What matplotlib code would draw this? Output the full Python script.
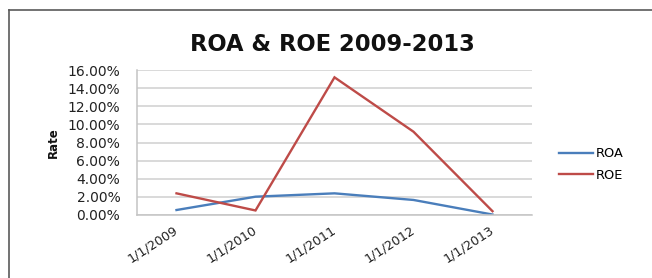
import matplotlib
matplotlib.use("Agg")
import matplotlib.pyplot as plt
from matplotlib.lines import Line2D
from matplotlib.ticker import FuncFormatter

categories = ["1/1/2009", "1/1/2010", "1/1/2011", "1/1/2012", "1/1/2013"]
roa = [0.55, 2.02, 2.39, 1.66, 0.05]
roe = [2.39, 0.5, 15.19, 9.19, 0.42]
y_ticks = [0, 2, 4, 6, 8, 10, 12, 14, 16]

plt.rcParams['font.family'] = ['DejaVu Sans']

fig = plt.figure(figsize=(6.52, 2.78), dpi=100)
W, H = 652, 278

# outer chart border (left and top visible)
fig.add_artist(Line2D([9 / W, 9 / W], [0, 1 - 10 / H], transform=fig.transFigure,
                      color="#5a5a5a", lw=1.2))
fig.add_artist(Line2D([9 / W, 1], [1 - 10 / H, 1 - 10 / H], transform=fig.transFigure,
                      color="#5a5a5a", lw=1.2))

left, right, top, bottom = 137, 532, 70, 215
ax = fig.add_axes([left / W, 1 - bottom / H, (right - left) / W, (bottom - top) / H])

x = list(range(len(categories)))
ax.plot(x, roa, color="#4a7ebb", lw=1.7, label="ROA", solid_joinstyle="miter")
ax.plot(x, roe, color="#be4b48", lw=1.7, label="ROE", solid_joinstyle="miter")

ax.set_xlim(-0.5, len(categories) - 0.5)
ax.set_ylim(0, 16)
ax.set_yticks(y_ticks)
ax.yaxis.set_major_formatter(FuncFormatter(lambda v, p: f"{v:.2f}%"))
ax.set_xticks(x)
ax.set_xticklabels(categories, rotation=33, ha="right", va="center",
                   rotation_mode="anchor")

ax.grid(axis="y", color="#d0d0d0", lw=1.1)
ax.set_axisbelow(True)
for s in ["top", "right"]:
    ax.spines[s].set_visible(False)
for s in ["left", "bottom"]:
    ax.spines[s].set_color("#c4c4c4")
    ax.spines[s].set_linewidth(1.1)
ax.tick_params(axis="both", length=0, colors="#222222")
ax.tick_params(axis="y", pad=12, labelsize=10)
ax.tick_params(axis="x", pad=10, labelsize=9.2)

fig.text(53 / W, 1 - 143 / H, "Rate", rotation=90, ha="center", va="center",
         fontsize=8.5, fontweight="bold", color="#111111")

fig.text(332 / W, 1 - 44.5 / H, "ROA & ROE 2009-2013", ha="center", va="center",
         fontsize=16.3, fontweight="bold", color="#111111")

leg = ax.legend(loc="center left", bbox_to_anchor=(559 / W, 1 - 164.5 / H),
                bbox_transform=fig.transFigure, frameon=False, fontsize=9.3,
                handlelength=2.6, handletextpad=0.25, labelspacing=0.65,
                borderpad=0, borderaxespad=0)

fig.savefig("out.png", dpi=100, facecolor="white")
